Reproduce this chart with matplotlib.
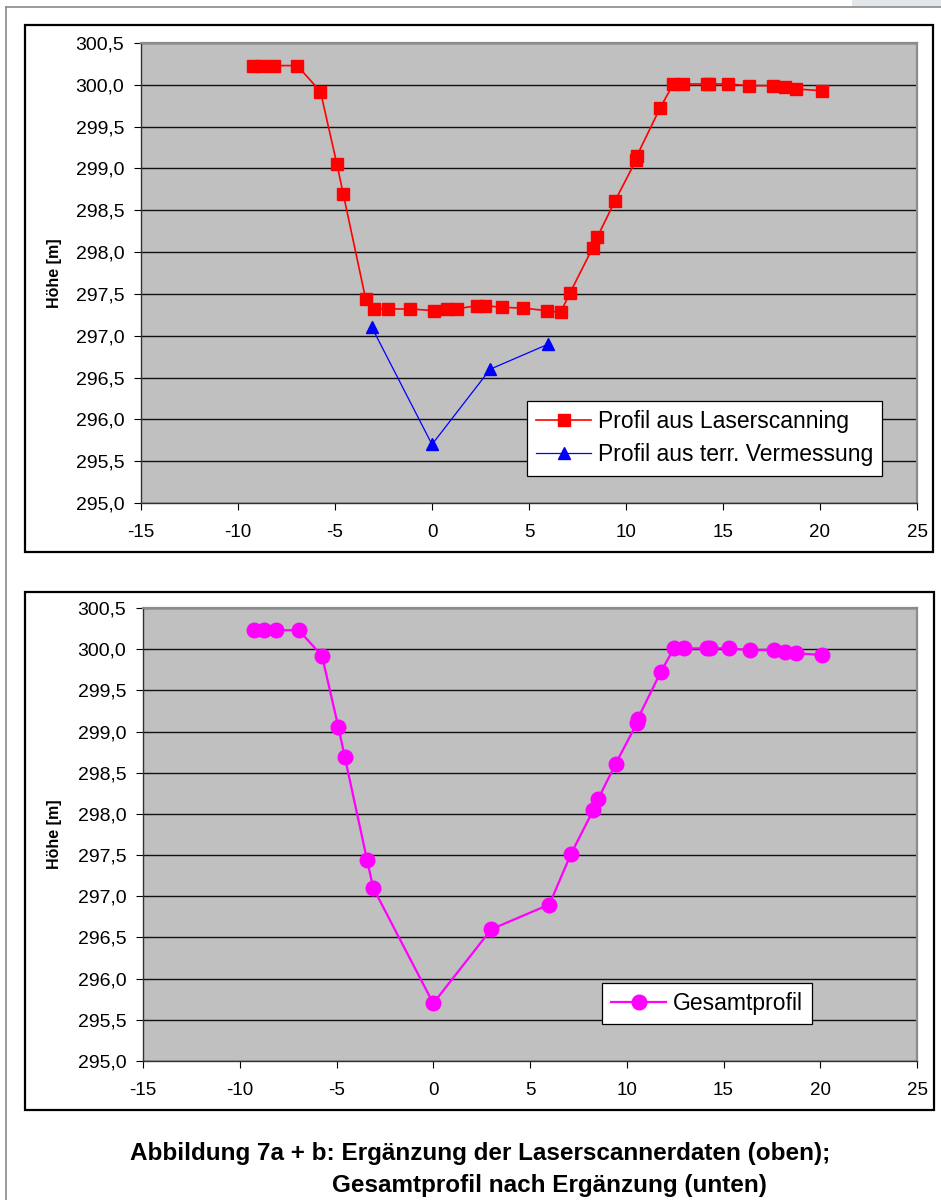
import matplotlib
matplotlib.use("Agg")
import matplotlib.pyplot as plt
from matplotlib.patches import Rectangle
from matplotlib.lines import Line2D
from matplotlib.ticker import FuncFormatter, MultipleLocator

plt.rcParams['font.family'] = ['Liberation Sans', 'DejaVu Sans']

# Profil aus Laserscanning (x [m], Hoehe [m])
laser_x = [-9.25, -8.75, -8.15, -6.95, -5.75, -4.9, -4.57, -3.42, -3.01, -2.25,
           -1.13, 0.1, 0.76, 1.27, 2.3, 2.73, 3.59, 4.71, 5.91, 6.63,
           7.11, 8.28, 8.52, 9.43, 10.52, 10.56, 11.75, 12.44, 12.96, 14.16,
           14.3, 15.27, 16.36, 17.59, 18.2, 18.75, 20.09]
laser_h = [300.23, 300.23, 300.23, 300.23, 299.92, 299.05, 298.69, 297.44, 297.32, 297.32,
           297.32, 297.30, 297.32, 297.32, 297.36, 297.36, 297.34, 297.33, 297.30, 297.28,
           297.51, 298.05, 298.18, 298.61, 299.10, 299.15, 299.72, 300.01, 300.01, 300.01,
           300.01, 300.01, 299.99, 299.99, 299.97, 299.95, 299.93]

# Profil aus terrestrischer Vermessung
terr_x = [-3.1, 0.0, 3.0, 6.0]
terr_h = [297.10, 295.70, 296.60, 296.90]

# Gesamtprofil: Laserdaten ausserhalb des Grabens + terrestrische Punkte
ges_x = [x for x in laser_x if x < -3.2] + terr_x + [x for x in laser_x if x > 6.8]
ges_h = ([h for x, h in zip(laser_x, laser_h) if x < -3.2] + terr_h
         + [h for x, h in zip(laser_x, laser_h) if x > 6.8])

W, H = 941, 1200
fig = plt.figure(figsize=(W / 100, H / 100), dpi=100)


def px_rect(x0, y0, x1, y1):
    # pixel box (top-left origin) -> figure fraction [l, b, w, h]
    return [x0 / W, 1 - y1 / H, (x1 - x0) / W, (y1 - y0) / H]


def style_axes(ax):
    ax.set_facecolor('#c0c0c0')
    ax.set_xlim(-15, 25)
    ax.set_ylim(295.0, 300.5)
    ax.xaxis.set_major_locator(MultipleLocator(5))
    ax.yaxis.set_major_locator(MultipleLocator(0.5))
    ax.yaxis.set_major_formatter(FuncFormatter(lambda v, p: f"{v:.1f}".replace('.', ',')))
    ax.xaxis.set_major_formatter(FuncFormatter(lambda v, p: f"{v:.0f}"))
    ax.grid(axis='y', color='#111111', lw=1.0)
    ax.set_axisbelow(True)
    for s in ('top', 'right'):
        ax.spines[s].set_color('#8c8c8c')
        ax.spines[s].set_linewidth(1.6)
    ax.spines['left'].set_color('#333333')
    ax.spines['bottom'].set_color('#333333')
    ax.spines['left'].set_linewidth(1.0)
    ax.spines['bottom'].set_linewidth(1.0)
    ax.tick_params(axis='y', direction='out', length=5, width=0.8, pad=7, labelsize=14)
    ax.tick_params(axis='x', direction='out', length=5, width=0.8, pad=10, labelsize=13.5)


leg_kw = dict(bbox_transform=fig.transFigure, borderaxespad=0, fontsize=16.5,
              fancybox=False, edgecolor='black', framealpha=1, handlelength=2.4,
              borderpad=0.4, labelspacing=0.45, handletextpad=0.3)

# page frame
fig.add_artist(Line2D([6 / W, 1], [1 - 7 / H, 1 - 7 / H], color='#8a8a8a', lw=1.2))
fig.add_artist(Line2D([6 / W, 6 / W], [0, 1 - 7 / H], color='#8a8a8a', lw=1.2))
fig.add_artist(Rectangle((852 / W, 1 - 7 / H), 89 / W, 7 / H, color='#e4e7ea', lw=0))

# chart frames
for box in [(25, 25, 933, 552), (25, 592, 934, 1110)]:
    l, b, w, h = px_rect(*box)
    fig.add_artist(Rectangle((l, b), w, h, fill=False, ec='black', lw=1.6))

# --- oben ---
ax1 = fig.add_axes(px_rect(141, 43, 917, 503))
style_axes(ax1)
ax1.plot(laser_x, laser_h, color='red', lw=1.2, marker='s', ms=8.5, mfc='red', mec='red',
         label='Profil aus Laserscanning')
ax1.plot(terr_x, terr_h, color='blue', lw=0.9, marker='^', ms=8.5, mfc='blue', mec='blue',
         label='Profil aus terr. Vermessung')
leg1 = ax1.legend(loc='upper left', bbox_to_anchor=(527 / W, 1 - 401 / H), **leg_kw)
leg1.get_frame().set_linewidth(0.9)

# --- unten ---
ax2 = fig.add_axes(px_rect(143, 608, 917, 1061))
style_axes(ax2)
ax2.plot(ges_x, ges_h, color='#ff00ff', lw=1.6, marker='o', ms=10.5, mfc='#ff00ff', mec='#ff00ff',
         label='Gesamtprofil')
leg2 = ax2.legend(loc='upper left', bbox_to_anchor=(602 / W, 1 - 983 / H), **leg_kw)
leg2.get_frame().set_linewidth(0.9)

for yc in [(43 + 503) / 2, (608 + 1061) / 2]:
    fig.text(55 / W, 1 - yc / H, 'Höhe [m]', rotation=90, ha='center', va='center',
             fontsize=11.5, fontweight='bold')

fig.text(130 / W, 1 - 1160 / H, 'Abbildung 7a + b: Ergänzung der Laserscannerdaten (oben);',
         ha='left', va='baseline', fontsize=17.5, fontweight='bold')
fig.text(549 / W, 1 - 1192 / H, 'Gesamtprofil nach Ergänzung (unten)',
         ha='center', va='baseline', fontsize=17.5, fontweight='bold')

fig.savefig('out.png', dpi=100)
